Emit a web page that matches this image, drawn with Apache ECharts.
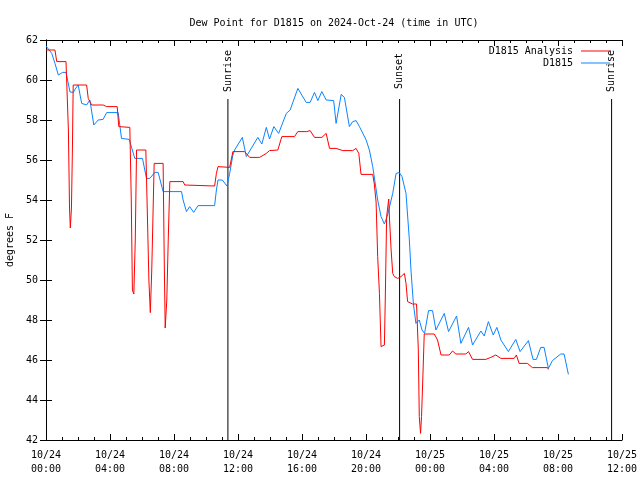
<!DOCTYPE html>
<html>
<head>
<meta charset="utf-8">
<script src="https://cdn.jsdelivr.net/npm/echarts@6/dist/echarts.min.js"></script>
<style>html,body{margin:0;padding:0;background:#fff}#c{width:640px;height:480px}</style>
</head>
<body>
<div id="c"></div>
<script>
// hours since 2024-10-24 00:00 UTC
const analysisTimes = [0.0,0.56,0.67,1.25,1.31,1.40,1.47,1.52,1.59,1.65,1.70,2.54,2.64,2.85,3.57,3.79,4.45,4.55,5.24,5.33,5.40,5.49,5.58,5.66,6.24,6.33,6.43,6.52,6.61,6.76,7.32,7.39,7.45,7.55,7.64,7.74,8.57,8.67,10.54,10.65,10.75,11.48,11.68,12.41,12.73,13.35,13.77,13.97,14.49,14.74,15.53,15.74,16.30,16.51,16.78,17.24,17.51,17.72,18.13,18.55,19.17,19.38,19.55,19.69,20.42,20.52,20.63,20.73,20.84,20.94,21.15,21.21,21.29,21.42,21.46,21.57,21.67,21.77,21.98,22.19,22.40,22.50,22.60,22.91,23.16,23.27,23.33,23.41,23.47,23.54,23.64,24.27,24.47,24.69,25.20,25.41,25.62,26.24,26.41,26.66,27.49,27.80,28.11,28.43,29.26,29.40,29.57,30.09,30.40,31.34,31.40];
const analysisValues = [61.5,61.5,60.92,60.92,60.9,57.5,53.6,52.6,53.6,56.5,59.75,59.75,59.08,58.75,58.75,58.67,58.67,57.67,57.63,54.0,49.5,49.3,52.0,56.5,56.5,53.5,50.0,48.37,50.5,55.83,55.83,51.0,47.6,49.0,52.0,54.92,54.92,54.75,54.7,55.33,55.67,55.63,56.42,56.42,56.13,56.13,56.33,56.47,56.5,57.17,57.17,57.42,57.42,57.47,57.13,57.13,57.33,56.58,56.58,56.47,56.47,56.58,56.33,55.28,55.28,54.8,53.9,51.17,49.33,46.67,46.75,49.3,53.17,54.05,53.2,51.5,50.33,50.17,50.08,50.17,50.33,49.83,48.92,48.8,48.8,46.5,43.17,42.33,43.17,44.8,47.3,47.3,47.0,46.25,46.25,46.45,46.3,46.3,46.42,46.03,46.03,46.13,46.25,46.08,46.08,46.25,45.83,45.83,45.62,45.62,45.53];

const stationTimes = [0,0.36,0.56,0.77,1.04,1.25,1.50,1.70,1.87,2.01,2.23,2.54,2.74,2.99,3.26,3.57,3.79,4.51,4.72,5.20,5.55,6.03,6.28,6.49,6.80,7.01,7.32,8.47,8.57,8.78,8.98,9.23,9.50,10.54,10.65,10.75,11.02,11.31,11.48,11.68,11.79,12.27,12.52,13.24,13.49,13.77,13.97,14.24,14.54,15.02,15.26,15.74,16.26,16.51,16.78,16.99,17.24,17.51,17.98,18.13,18.45,18.65,18.96,19.17,19.38,19.59,20.01,20.21,20.42,20.73,20.94,21.15,21.35,21.67,21.88,22.08,22.25,22.50,22.71,22.81,22.96,23.12,23.23,23.33,23.50,23.66,23.91,24.16,24.37,24.89,25.16,25.66,25.93,26.41,26.66,27.18,27.39,27.65,27.95,28.18,28.43,28.90,29.36,29.63,30.15,30.44,30.65,30.92,31.13,31.40,31.65,32.17,32.38,32.65];
const stationValues = [61.7,61.33,60.83,60.25,60.38,60.38,59.4,59.38,59.6,59.75,58.83,58.75,59.0,57.75,58.0,58.03,58.37,58.37,57.08,57.03,56.08,56.08,55.08,55.08,55.38,55.38,54.42,54.42,54.0,53.42,53.67,53.38,53.72,53.72,54.5,55.0,55.0,54.7,55.33,56.25,56.5,57.13,56.17,57.13,56.8,57.63,57.05,57.67,57.33,58.33,58.5,59.58,58.88,58.88,59.38,58.97,59.42,59.0,58.97,57.83,59.28,59.13,57.67,57.92,57.97,57.67,57.0,56.5,55.67,54.0,53.17,52.8,53.25,54.33,55.33,55.37,55.17,54.33,52.0,50.5,48.83,47.83,47.75,48.0,47.5,47.33,48.47,48.47,47.5,48.33,47.42,48.2,46.83,47.63,46.75,47.45,47.2,47.92,47.25,47.63,47.0,46.42,47.03,46.42,46.97,46.03,46.03,46.63,46.63,45.58,45.97,46.3,46.3,45.28];

const eventTimes = [11.37, 22.10, 35.35];
const eventNames = ['Sunrise', 'Sunset', 'Sunrise'];
const eventTop = 59.05;

const dayLabels = ['10/24', '10/25'];
const seriesNames = ['D1815 Analysis', 'D1815'];

const FONT = 'DejaVu Sans Mono';
const zip = (a, b) => a.map((t, i) => [t, b[i]]);
const pad = n => (n < 10 ? '0' : '') + n;

const chart = echarts.init(document.getElementById('c'), null, {renderer: 'canvas'});

const series = [
  {name: seriesNames[0], type: 'line', data: zip(analysisTimes, analysisValues), symbol: 'none',
   lineStyle: {color: '#ff0000', width: 1}, itemStyle: {color: '#ff0000'}, z: 3},
  {name: seriesNames[1], type: 'line', data: zip(stationTimes, stationValues), symbol: 'none',
   lineStyle: {color: '#0a84ff', width: 1}, itemStyle: {color: '#0a84ff'}, z: 2}
];
eventTimes.forEach((t, i) => {
  series.push({name: 'ev' + i, type: 'line', data: [[t, 42], [t, eventTop]], symbol: 'none', silent: true,
    lineStyle: {color: '#000', width: 1}, z: 1});
});

const axisCommon = {
  axisLine: {show: true, lineStyle: {color: '#000', width: 1}},
  splitLine: {show: false}
};

chart.setOption({
  animation: false,
  backgroundColor: '#fff',
  title: {text: 'Dew Point for D1815 on 2024-Oct-24 (time in UTC)', left: 329, textAlign: 'center', top: 13,
    textStyle: {fontFamily: FONT, fontSize: 10, fontWeight: 'normal', color: '#000'}},
  legend: {data: seriesNames, orient: 'vertical', align: 'right', right: 30, top: 45, padding: 0,
    itemWidth: 29, itemHeight: 12, itemGap: 0, icon: 'path://M0,5.5L29,5.5L29,6.5L0,6.5Z',
    textStyle: {fontFamily: FONT, fontSize: 10, color: '#000', lineHeight: 12, padding: [0, 3, 0, 0]}},
  grid: {left: 46, right: 18, top: 40, bottom: 40, containLabel: false, outerBoundsMode: 'none'},
  xAxis: [
    Object.assign({type: 'value', min: 0, max: 36, interval: 4, position: 'bottom',
      axisTick: {show: true, inside: true, length: 6, lineStyle: {color: '#000'}},
      minorTick: {show: true, splitNumber: 4, length: 3, lineStyle: {color: '#000'}},
      axisLabel: {fontFamily: FONT, fontSize: 10, color: '#000', margin: 8, lineHeight: 14,
        formatter: v => dayLabels[Math.floor(v / 24)] ? dayLabels[Math.floor(v / 24)] + '\n' + pad(v % 24) + ':00' : ''}},
      axisCommon),
    Object.assign({type: 'value', min: 0, max: 36, interval: 4, position: 'top',
      axisTick: {show: true, inside: true, length: 6, lineStyle: {color: '#000'}},
      minorTick: {show: true, splitNumber: 4, length: 3, lineStyle: {color: '#000'}},
      axisLabel: {show: false}}, axisCommon)
  ],
  yAxis: [
    Object.assign({type: 'value', min: 42, max: 62, interval: 2, position: 'left',
      name: 'degrees F', nameLocation: 'middle', nameGap: 31, nameRotate: 90,
      nameTextStyle: {fontFamily: FONT, fontSize: 10, color: '#000'},
      axisTick: {show: true, inside: true, length: 6, lineStyle: {color: '#000'}},
      axisLabel: {fontFamily: FONT, fontSize: 10, color: '#000', margin: 8}}, axisCommon),
    Object.assign({type: 'value', min: 42, max: 62, interval: 2, position: 'right',
      axisTick: {show: true, inside: true, length: 6, lineStyle: {color: '#000'}},
      axisLabel: {show: false}}, axisCommon)
  ],
  series: series
});

const graphics = eventTimes.map((t, i) => {
  const p = chart.convertToPixel({xAxisIndex: 0, yAxisIndex: 0}, [t, eventTop]);
  return {type: 'text', x: p[0], y: p[1] - 28, rotation: Math.PI / 2,
    style: {text: eventNames[i], font: '10px ' + FONT, fill: '#000', align: 'center', verticalAlign: 'middle'}};
});
chart.setOption({graphic: graphics});
</script>
</body>
</html>
